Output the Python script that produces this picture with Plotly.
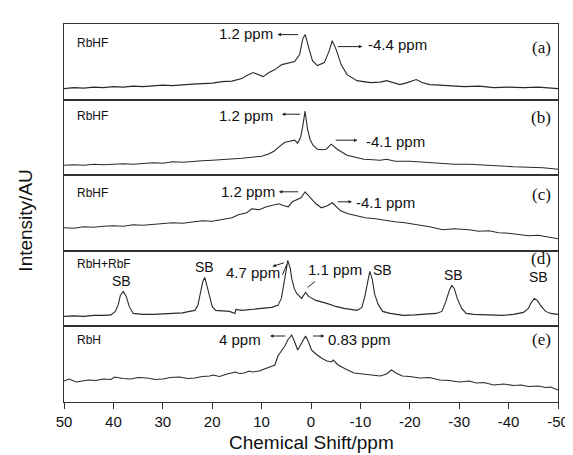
import plotly.graph_objects as go
from plotly.subplots import make_subplots

# ---------------- data (chemical shift in ppm, intensity in AU) ----------------
ppm_a = [50, 48, 46, 44, 42, 40, 38, 36, 34, 32, 30, 28, 26, 24, 22, 20, 18, 16, 14, 13,
         11.7, 10.5, 9.7, 8.5, 7.3, 5.9, 4.5, 3.3, 2.3, 1.7, 1.2, 1.0, 0.3, -0.3, -1.3, -2.7,
         -3.7, -4.3, -5.1, -6.1, -7.3, -9.3, -12, -14, -15.3, -16.5, -18, -19.5, -21.3, -22.5,
         -24, -26, -28.6, -31, -34, -37, -40, -43, -46, -48, -50]
int_a = [11, 12, 11.5, 12.5, 12, 13, 12.5, 13.5, 13, 14, 14.5, 14, 15, 15.5, 16, 16.5, 18, 18.5, 21, 24,
         27, 24.5, 23, 27, 30, 35, 37, 38, 45, 60, 65, 62, 49, 39, 34, 37, 49, 59, 50, 35,
         25, 19, 17, 17.5, 19, 17, 15, 17, 20, 17, 15, 14.5, 14, 13, 13.5, 12, 12.5, 12, 12.5, 11.5, 11]

ppm_b = [50, 48, 46, 44, 42, 40, 38, 36, 34, 32, 30, 28, 26, 24, 22, 20, 18, 16, 14, 12, 10,
         8.7, 7.5, 6.3, 5.3, 4.3, 3.3, 2.7, 2.1, 1.7, 1.2, 0.7, 0.2, -0.4, -1.3, -2.2, -3.1,
         -4.1, -5.3, -6.3, -7.3, -9, -10.7, -12.5, -14, -15.3, -17, -20, -23, -26, -29, -32,
         -35, -38, -41, -44, -47, -50]
int_b = [10, 10.5, 10, 11, 10.5, 11, 11.5, 11, 12, 12.5, 12, 13.5, 13, 14, 14.5, 15, 15.5, 16, 17, 18, 19,
         21, 24, 29, 33, 34, 35, 32, 38, 48, 64, 46, 36, 30, 26, 25.5, 26, 31, 26, 23,
         20, 18, 16, 15.5, 15, 16, 14, 14, 13, 12, 11, 11, 10, 9.5, 8.5, 8, 7.5, 6]

ppm_c = [50, 48, 46, 44, 42, 40, 38, 36, 34, 32, 30, 28, 26, 24, 22, 20, 18, 16, 14.7, 13,
         12, 10.5, 9, 7.9, 6.5, 5.5, 4.6, 3.8, 3, 2, 1.2, 0.5, -0.1, -1, -2.1, -3.3, -4.3,
         -5.2, -6, -7.5, -9.3, -11, -13, -15.3, -17, -19, -22, -24, -26.7, -29, -32, -34,
         -36, -38, -40, -42, -44, -46, -48, -50]
int_c = [23, 22.5, 24, 23.5, 24.5, 25, 24.5, 26, 25.5, 26.5, 27, 28, 27.5, 29, 30, 29.5, 31, 33, 36, 38,
         42, 41, 44, 45, 47, 45, 44, 49, 51, 53, 59, 55, 51, 47, 43, 45, 48, 44, 40, 37,
         35, 33, 32, 30, 29, 28, 26, 24, 21, 22, 21, 19.5, 20, 18, 17.5, 16.5, 15, 15.5, 13.5, 12]

ppm_d = [50, 48, 46, 44, 42, 40.5, 39.6, 39, 38.6, 38, 37.4, 36.8, 36, 34, 32, 30, 28, 26, 24.6, 23.5,
         22.9, 22.3, 21.9, 21.5, 21, 20.6, 20, 19.3, 18, 16.5, 15.4, 15.2, 14, 12, 10, 8, 6.7, 6, 5.3, 4.7,
         4.2, 3.9, 3.4, 2.9, 1.9, 1.1, 0.5, -1, -3.2, -5, -6.7, -9.3, -10.3, -10.9, -11.5, -11.9, -12.4,
         -12.9, -13.6, -14.5, -16, -18.7, -21, -23, -25.3, -26.5, -27.3, -28, -28.5, -29, -29.6, -30.5,
         -31.4, -33, -36, -38.6, -41, -43, -44, -44.6, -45.2, -45.8, -46.6, -47.5, -48.5, -50]
int_d = [10, 10.5, 10, 11, 11, 11.5, 15, 22, 31, 35, 30, 20, 13, 12, 12, 12.5, 13, 13.5, 15, 16,
         21, 35, 45, 49, 40, 31, 20, 16, 15.5, 15, 13, 17, 16, 17, 18, 19, 21, 28, 48, 66,
         58, 48, 38, 33, 28, 34, 30, 26, 23, 20, 18, 16, 19, 30, 45, 55, 47,
         32, 22, 15, 13, 11, 11.5, 12, 13, 15, 25, 36, 41, 38, 28, 18,
         13, 12, 11.5, 11, 12, 14, 18, 24, 28, 26, 20, 15, 13, 12]

ppm_e = [50, 49, 47.5, 46.6, 45, 43.5, 42, 40.5, 39.8, 38, 36.5, 35, 33.2, 31.5, 30, 28.5, 26.6, 25,
         23.5, 22, 20.5, 19.9, 18.5, 17, 15.3, 14.5, 13.5, 12.5, 11.9, 10.5, 9.5, 8.9, 8, 7.3, 6.7,
         6, 5.3, 4.7, 3.9, 3.3, 2.7, 2, 1.1, 0.5, -0.1, -1, -2.1, -3.2, -4.1, -4.5, -5.5, -7, -8.7,
         -10.5, -12, -14, -15.3, -16.3, -17.2, -18.5, -20, -22, -24, -26, -28, -30, -32, -33.5, -35,
         -37, -39, -41, -42.5, -44, -46, -47.5, -48.5, -50]
int_e = [21, 23, 20, 20.5, 22, 21.5, 23, 22.5, 25, 23.5, 23, 24.5, 24, 22.5, 23, 24.5, 25, 23.5,
         24, 25.5, 26, 27, 25.5, 28, 30, 28.5, 29, 31, 30, 31, 33, 34, 35.5, 37, 46,
         51, 56, 62, 67, 60, 52, 58, 66, 60, 52, 48, 44, 41, 40, 42, 37, 33, 29,
         28, 27, 26, 28, 32, 29, 26, 25.5, 24, 24.5, 22, 21.5, 20, 21, 19, 19.5,
         17, 18, 16.5, 17, 15.5, 16, 14.5, 15, 12]

tick_vals = [50, 40, 30, 20, 10, 0, -10, -20, -30, -40, -50]
tick_text = ["50", "40", "30", "20", "10", "0", "-10", "-20", "-30", "-40", "-50"]

panels = [(ppm_a, int_a), (ppm_b, int_b), (ppm_c, int_c), (ppm_d, int_d), (ppm_e, int_e)]
sample_names = ["RbHF", "RbHF", "RbHF", "RbH+RbF", "RbH"]
panel_tags = ["(a)", "(b)", "(c)", "(d)", "(e)"]

# ---------------- figure ----------------
SANS = "Liberation Sans, Arial, sans-serif"
SERIF = "Liberation Serif, Times New Roman, serif"
LINE = "#2a2a2a"
YMAX = 75.6

fig = make_subplots(rows=5, cols=1, shared_xaxes=True, vertical_spacing=0)

for i, (xs, ys) in enumerate(panels, start=1):
    fig.add_trace(go.Scatter(x=xs, y=ys, mode="lines",
                             line=dict(color=LINE, width=1.1),
                             showlegend=False, hoverinfo="skip"), row=i, col=1)
    fig.update_yaxes(range=[0, YMAX], showticklabels=False, showgrid=False, zeroline=False,
                     showline=True, mirror=True, linecolor="#333", linewidth=1, ticks="",
                     row=i, col=1)
    fig.update_xaxes(range=[50, -50], showgrid=False, zeroline=False, showline=True,
                     mirror=True, linecolor="#333", linewidth=1,
                     tickvals=tick_vals, ticktext=tick_text,
                     ticks="outside" if i == 5 else "", ticklen=6, tickcolor="#333",
                     showticklabels=(i == 5),
                     tickfont=dict(family=SANS, size=15, color="#111"),
                     row=i, col=1)


def note(row, x, y, text, anchor="left", size=15, family=SANS):
    fig.add_annotation(x=x, y=y, xref=f"x{row}" if row > 1 else "x",
                       yref=f"y{row}" if row > 1 else "y",
                       text=text, showarrow=False, xanchor=anchor, yanchor="middle",
                       font=dict(family=family, size=size, color="#111"))


def arrow(row, x_head, y_head, x_tail, y_tail, head=True):
    xr = f"x{row}" if row > 1 else "x"
    yr = f"y{row}" if row > 1 else "y"
    fig.add_annotation(x=x_head, y=y_head, ax=x_tail, ay=y_tail, xref=xr, yref=yr,
                       axref=xr, ayref=yr, text="", showarrow=True,
                       arrowhead=2 if head else 0, arrowsize=0.7, arrowwidth=1,
                       arrowcolor="#222")


# sample names and panel tags
name_y = [57, 59, 58, 62.5, 62]
tag_y = [52, 58, 56, 67.5, 63]
for i in range(5):
    note(i + 1, 47.8, name_y[i], sample_names[i], size=12)
    note(i + 1, -46.6, tag_y[i], panel_tags[i], anchor="center", size=17, family=SERIF)

# (a)
note(1, 7.3, 66, "1.2 ppm", anchor="right")
arrow(1, 6.8, 65, 2.3, 65)
note(1, -11.1, 55, "-4.4 ppm")
arrow(1, -10.4, 53, -5.1, 53)
# (b)
note(2, 7.3, 60, "1.2 ppm", anchor="right")
arrow(2, 5.9, 61, 1.9, 61)
note(2, -10.7, 34, "-4.1 ppm")
arrow(2, -9.4, 35, -4.7, 35)
# (c)
note(3, 6.9, 59, "1.2 ppm", anchor="right")
arrow(3, 6.5, 59, 2.3, 59)
note(3, -8.7, 48, "-4.1 ppm")
arrow(3, -8.3, 49, -5.1, 49)
# (d)
note(4, 38.4, 45, "SB", anchor="center", size=14)
note(4, 21.5, 59, "SB", anchor="center", size=14)
note(4, -14.5, 56, "SB", anchor="center", size=14)
note(4, -28.8, 51, "SB", anchor="center", size=14)
note(4, -46.0, 49, "SB", anchor="center", size=14)
note(4, 5.9, 54, "4.7 ppm", anchor="right")
arrow(4, 7.8, 60, 5.2, 64)
arrow(4, 4.9, 62, 5.9, 50, head=False)
note(4, 1.1, 57, "1.1 ppm")
arrow(4, 0.7, 39, -1.1, 46, head=False)
# (e)
note(5, 9.7, 63, "4 ppm", anchor="right")
arrow(5, 8.3, 66, 4.9, 66)
note(5, -3.1, 63, "0.83 ppm")
arrow(5, -2.7, 66, -0.1, 66)

# axis titles
fig.add_annotation(x=0.5, y=-0.108, xref="paper", yref="paper", text="Chemical Shift/ppm",
                   showarrow=False, xanchor="center", yanchor="middle",
                   font=dict(family=SANS, size=19, color="#111"))
fig.add_annotation(x=-0.078, y=0.481, xref="paper", yref="paper", text="Intensity/AU",
                   showarrow=False, textangle=-90, xanchor="center", yanchor="middle",
                   font=dict(family=SANS, size=19, color="#111"))

fig.update_layout(width=573, height=455, margin=dict(l=56, r=16, t=16, b=61),
                  paper_bgcolor="white", plot_bgcolor="white")

fig.write_html("out.html")
